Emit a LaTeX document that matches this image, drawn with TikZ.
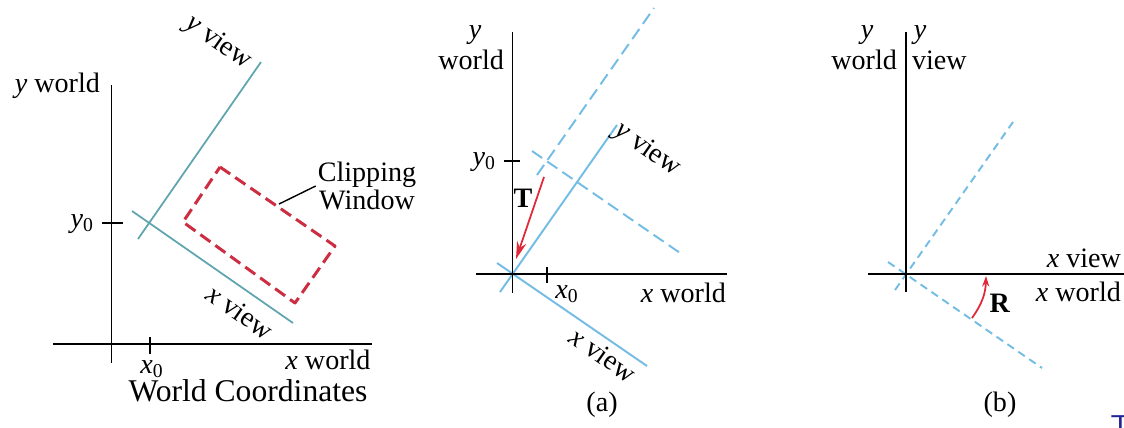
\documentclass[tikz,border=0pt]{standalone}
\usepackage{fontspec}
\setmainfont{Liberation Serif}
\usepackage{xcolor}
\usetikzlibrary{arrows.meta}
\definecolor{viewteal}{RGB}{95,165,175}
\definecolor{viewblue}{RGB}{115,188,228}
\definecolor{clipred}{RGB}{205,45,65}
\definecolor{arrowred}{RGB}{225,40,55}
\definecolor{straytxt}{RGB}{35,35,150}
\tikzset{
  axis/.style={line width=0.85pt,black},
  viewline/.style={line width=1.1pt,viewblue},
  viewdash/.style={viewline,dash pattern=on 7pt off 3.5pt},
  clipwin/.style={line width=1.7pt,clipred,dash pattern=on 7pt off 3.5pt},
  moveto/.style={line width=1pt,arrowred,-{Stealth[length=10pt,width=5.5pt]}},
  lbl/.style={inner sep=1pt}
}
\begin{document}
\begin{tikzpicture}[x=0.02cm,y=-0.02cm,>=Stealth,line join=round,
  font=\fontsize{16}{17}\selectfont]
  \useasboundingbox (0,0) rectangle (1124,427);
  % world coordinates panel
  \coordinate (YAt) at (111.7,85);
  \coordinate (YAb) at (111.7,363);
  \coordinate (XAl) at (53,344);
  \coordinate (XAr) at (372,344);
  \coordinate (XAt0) at (150,337);
  \coordinate (XAt1) at (150,354);
  \coordinate (YAt0) at (102,223);
  \coordinate (YAt1) at (123,223);
  \coordinate (VY0) at (138,239);
  \coordinate (VY1) at (261,62);
  \coordinate (VX0) at (132,211);
  \coordinate (VX1) at (293,323);
  \coordinate (CW1) at (220,167);
  \coordinate (CW2) at (335,246);
  \coordinate (CW3) at (295,303);
  \coordinate (CW4) at (183,222);
  \coordinate (CWp) at (279,204);
  \draw[axis] (YAt) -- (YAb);
  \draw[axis] (XAl) -- (XAr);
  \draw[axis] (XAt0) -- (XAt1);
  \draw[axis] (YAt0) -- (YAt1);
  \draw[line width=1pt,viewteal] (VY0) -- (VY1);
  \draw[line width=1pt,viewteal] (VX0) -- (VX1);
  \draw[clipwin] (CW1) -- (CW2) -- (CW3) -- (CW4) -- cycle;
  \node[lbl,anchor=east] (ywA) at (102,86) {\textit{y} world};
  \node[lbl,anchor=east] (y0A) at (96,224) {\textit{y}\textsubscript{0}};
  \node[lbl] (x0A) at (152,369) {\textit{x}\textsubscript{0}};
  \node[lbl] (xwA) at (328,360) {\textit{x} world};
  \node[lbl,font=\fontsize{18}{18}\selectfont] (wcA) at (248,391) {World Coordinates};
  \node[lbl,rotate=-35] (yvA) at (218,43) {\textit{y} view};
  \node[lbl,rotate=-35] (xvA) at (240,312) {\textit{x} view};
  \node[lbl,align=center,font=\fontsize{16}{16}\selectfont] (cwA) at (367,186) {Clipping\\Window};
  \draw[line width=0.8pt] (CWp) -- (cwA.west);

  % panel (a): translate
  \coordinate (YBt) at (512.7,32);
  \coordinate (YBb) at (512.7,293);
  \coordinate (XBl) at (476,274);
  \coordinate (XBr) at (727,274);
  \coordinate (YBt0) at (504,161);
  \coordinate (YBt1) at (520,161);
  \coordinate (XBt0) at (547,267);
  \coordinate (XBt1) at (547,283);
  \coordinate (SY0) at (500,292);
  \coordinate (SY1) at (617,125);
  \coordinate (SX0) at (497,263);
  \coordinate (SX1) at (647,366);
  \coordinate (DY0) at (537,175);
  \coordinate (DY1) at (654,8);
  \coordinate (DX0) at (532,151);
  \coordinate (DX1) at (683,255);
  \coordinate (T0) at (544,177);
  \coordinate (T1) at (516,259);
  \draw[viewdash] (DY0) -- (DY1);
  \draw[viewdash] (DX0) -- (DX1);
  \draw[viewline] (SY0) -- (SY1);
  \draw[viewline] (SX0) -- (SX1);
  \draw[axis] (YBt) -- (YBb);
  \draw[axis] (XBl) -- (XBr);
  \draw[axis] (YBt0) -- (YBt1);
  \draw[axis] (XBt0) -- (XBt1);
  \draw[moveto] (T0) -- (T1);
  \node[lbl] (TB) at (523,198) {\textbf{T}};
  \node[lbl,anchor=east] (y0B) at (498,162) {\textit{y}\textsubscript{0}};
  \node[lbl] (x0B) at (567,294) {\textit{x}\textsubscript{0}};
  \node[lbl,anchor=east] (xwB) at (728,293) {\textit{x} world};
  \node[lbl] (ywB1) at (475,35) {\textit{y}};
  \node[lbl,anchor=east] (ywB2) at (506,60) {world};
  \node[lbl,rotate=-35] (yvB) at (647,150) {\textit{y} view};
  \node[lbl,rotate=-35] (xvB) at (603,355) {\textit{x} view};
  \node[lbl] (capB) at (602,405) {(a)};

  % panel (b): rotate
  \coordinate (YCt) at (906,32);
  \coordinate (YCb) at (906,292);
  \coordinate (XCl) at (868,274);
  \coordinate (XCr) at (1124,274);
  \coordinate (EY0) at (895,290);
  \coordinate (EY1) at (1013,122);
  \coordinate (EX0) at (888,262);
  \coordinate (EX1) at (1042,368);
  \coordinate (R0) at (972,318);
  \coordinate (R1) at (986,276);
  \draw[viewline,dash pattern=on 4.5pt off 3pt] (EY0) -- (EY1);
  \draw[viewline,dash pattern=on 4.5pt off 3pt] (EX0) -- (EX1);
  \draw[axis] (YCt) -- (YCb);
  \draw[axis] (XCl) -- (XCr);
  \draw[line width=1pt,arrowred,-{Stealth[length=6pt,width=4pt]}] (R0) to[bend right=17] (R1);
  \node[lbl] (RC) at (1000,303) {\textbf{R}};
  \node[lbl] (ywC1) at (867,35) {\textit{y}};
  \node[lbl,anchor=east] (ywC2) at (899,60) {world};
  \node[lbl] (yvC1) at (920,35) {\textit{y}};
  \node[lbl,anchor=west] (yvC2) at (910,60) {view};
  \node[lbl,anchor=east] (xvC) at (1123,258) {\textit{x} view};
  \node[lbl,anchor=east] (xwC) at (1123,292) {\textit{x} world};
  \node[lbl] (capC) at (1000,405) {(b)};
  \node[inner sep=0pt,anchor=north west,text=straytxt,
    font=\sffamily\fontsize{18}{18}\selectfont] (Tcut) at (1110,415) {T};
\end{tikzpicture}
\end{document}
